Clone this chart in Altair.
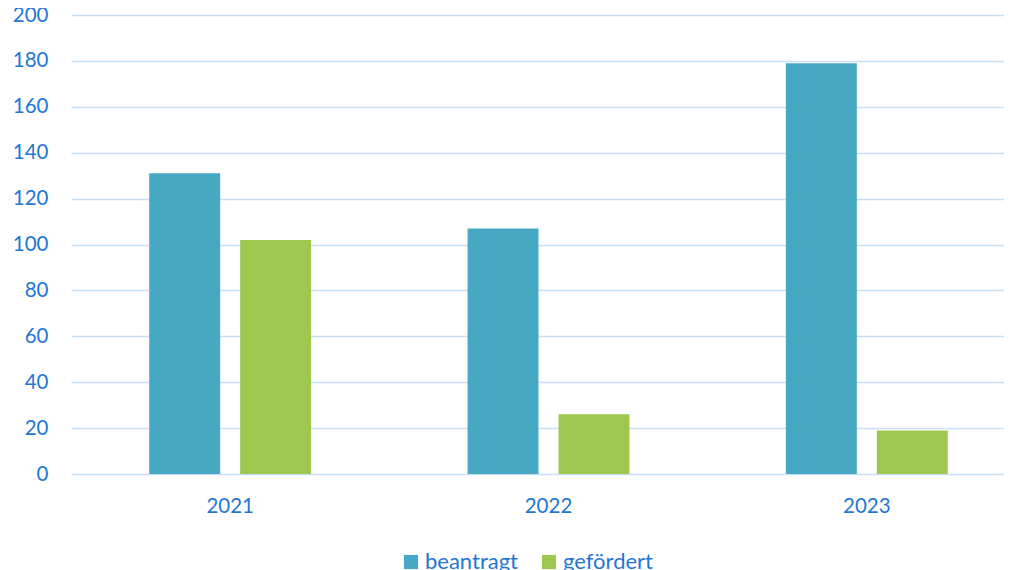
import altair as alt
import pandas as pd

years = ["2021", "2022", "2023"]
series = ["beantragt", "gefördert"]
beantragt = [131, 107, 179]
gefoerdert = [102, 26, 19]
y_ticks = [0, 20, 40, 60, 80, 100, 120, 140, 160, 180, 200]

rows = []
for i, yr in enumerate(years):
    rows.append({"Jahr": yr, "Serie": series[0], "Wert": beantragt[i]})
    rows.append({"Jahr": yr, "Serie": series[1], "Wert": gefoerdert[i]})
df = pd.DataFrame(rows)

blue_text = "#1F77D4"
font = "Lato"

chart = alt.Chart(df).mark_bar().encode(
    x=alt.X("Jahr:N", sort=years, title=None,
            scale=alt.Scale(paddingInner=0, paddingOuter=0, range=[0, 955]),
            axis=alt.Axis(labelAngle=0, ticks=False, domain=False, grid=False,
                          labelFontSize=20.5, labelColor=blue_text, labelFont=font,
                          labelPadding=22)),
    xOffset=alt.XOffset("Serie:N", sort=series,
                        scale=alt.Scale(paddingInner=0.22, paddingOuter=0.86)),
    y=alt.Y("Wert:Q", title=None,
            scale=alt.Scale(domain=[0, 200], nice=False),
            axis=alt.Axis(values=y_ticks, ticks=False, domain=False,
                          gridColor="#C8DFF6", gridWidth=1.6,
                          labelFontSize=20.5, labelColor=blue_text, labelFont=font,
                          labelPadding=23)),
    color=alt.Color("Serie:N", sort=series, title=None,
                    scale=alt.Scale(domain=series, range=["#46A8C3", "#9DC74F"]),
                    legend=alt.Legend(orient="none", direction="horizontal",
                                      legendX=329, legendY=536,
                                      symbolType="square", symbolSize=200,
                                      symbolStrokeWidth=0,
                                      labelFontSize=22, labelColor=blue_text,
                                      labelFont=font, columnPadding=20,
                                      labelOffset=3)),
).properties(
    width=933,
    height=459,
    padding={"left": 63, "top": 7, "right": 0, "bottom": 96},
    autosize=alt.AutoSizeParams(type="none"),
).configure_view(stroke=None)

chart.save("out.html", embed_options={"renderer": "svg", "actions": False})
